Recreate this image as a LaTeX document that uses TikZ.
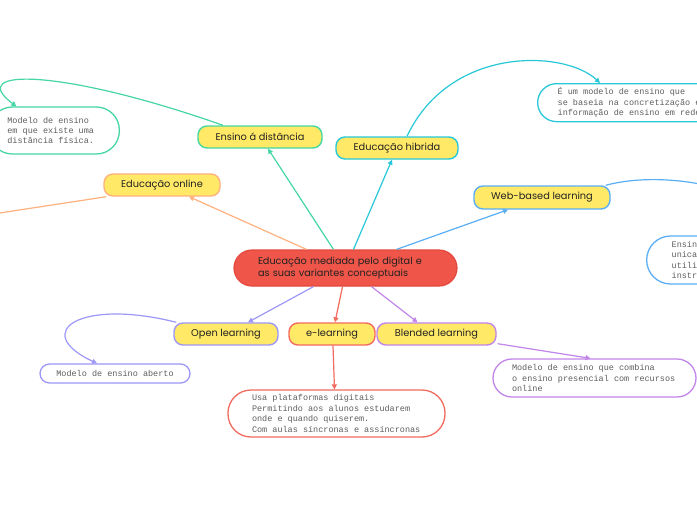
\documentclass[tikz,border=0pt]{standalone}
\usepackage{fontspec}
\setmainfont{Poppins}
\newfontfamily\leafmono{Liberation Mono}[WordSpace={1,0,0}]
\newcommand\myleaffont{\leafmono\fontsize{8.5}{10.4}\selectfont}
\newcommand\monosp{\spaceskip 0.6em\xspaceskip 0.6em\hyphenpenalty 10000\exhyphenpenalty 10000\hfuzz 6pt\hbadness 10000\relax}
\usetikzlibrary{arrows.meta,calc}
\definecolor{ylw}{HTML}{FFE966}
\definecolor{txt}{HTML}{222222}
\definecolor{leaftxt}{HTML}{5E5E5E}
\definecolor{cred}{HTML}{EF5548}
\definecolor{credb}{HTML}{E2483F}
\definecolor{cgreen}{HTML}{45D6A3}
\definecolor{ccyan}{HTML}{28C8D8}
\definecolor{corange}{HTML}{FFB27F}
\definecolor{cblue}{HTML}{5AAEF5}
\definecolor{cviolet}{HTML}{9D97F7}
\definecolor{celred}{HTML}{F26B5E}
\definecolor{cpurple}{HTML}{C285E8}
\begin{document}
\begin{tikzpicture}[x=1pt,y=-1pt,
  mainbox/.style={draw=#1, line width=1.4pt, fill=ylw, rounded corners=9pt,
    minimum height=22pt, inner sep=0pt, text=txt,
    font=\fontsize{9.8}{11}\selectfont},
  leafbox/.style={draw=#1, line width=1.3pt, fill=white, text=leaftxt,
    inner ysep=0pt, font=\myleaffont, align=left},
  conn/.style={draw=#1, line width=1.2pt, -{Triangle[length=5pt,width=5pt]}},
  plain/.style={draw=#1, line width=1.2pt}
]
\useasboundingbox (0,0) rectangle (697,520);
\clip (0,0) rectangle (697,520);
\fill[white] (0,0) rectangle (697,520);

% central node
\node[draw=credb, line width=1.2pt, fill=cred, rounded corners=18pt,
  minimum height=36pt, inner xsep=24pt, inner ysep=0pt, text width=175pt,
  align=left, text=txt, font=\fontsize{9.7}{11.5}\selectfont]
  (c) at (345.5,268) {Educação mediada pelo digital e\\as suas variantes conceptuais};

% main nodes
\node[mainbox=cgreen, minimum width=124pt] (ens) at (260,137) {Ensino á distância};
\node[mainbox=ccyan, minimum width=122pt] (hib) at (397,148) {Educação hibrida};
\node[mainbox=corange, minimum width=116pt] (onl) at (162,185) {Educação online};
\node[mainbox=cblue, minimum width=136pt, minimum height=23pt] (web) at (542,197.5) {Web-based learning};
\node[mainbox=cviolet, minimum width=104pt] (opn) at (226,334) {Open learning};
\node[mainbox=celred, minimum width=86pt] (eln) at (332,334) {e-learning};
\node[mainbox=cpurple, minimum width=119pt] (bln) at (436.5,334) {Blended learning};

% leaf nodes
\node[leafbox=cgreen, rounded corners=23pt, minimum height=47pt, inner xsep=18pt,
  text width=94pt, anchor=east] (lens) at (120,130.5)
  {\monosp Modelo de ensino\\em que existe uma\\distância física.};
\node[leafbox=ccyan, rounded corners=19pt, minimum height=38pt, inner xsep=20pt,
  text width=180pt, anchor=north west] (lhib) at (537,83)
  {\monosp É um modelo de ensino que\\se baseia na concretização e\\informação de ensino em rede};
\node[leafbox=cblue, rounded corners=24pt, minimum height=48pt, inner xsep=25pt,
  text width=60pt, anchor=west] (lweb) at (646,260)
  {\monosp Ensin\\unica\\utili\\instr};
\node[leafbox=cviolet, rounded corners=9.5pt, minimum height=19pt, minimum width=150pt,
  align=center, inner xsep=4pt] (lopn) at (115,373.5) {\monosp Modelo de ensino aberto};
\node[leafbox=celred, rounded corners=23pt, minimum height=47pt, inner xsep=24pt,
  text width=169pt] (leln) at (336.5,413.5)
  {\monosp Usa plataformas digitais\\Permitindo aos alunos estudarem\\onde e quando quiserem.\\Com aulas síncronas e assíncronas};
\node[leafbox=cpurple, rounded corners=19pt, minimum height=38pt, inner xsep=19pt,
  text width=165pt] (lbln) at (594.5,378)
  {\monosp Modelo de ensino que combina\\o ensino presencial com recursos\\online};

\coordinate (webend) at (730,192);
\coordinate (onlend) at (-20,216);

% connectors central -> main
\draw[conn=cgreen] ([xshift=-12pt]c.north) -- ([xshift=8pt]ens.south);
\draw[conn=ccyan] ([xshift=8pt]c.north) -- ([xshift=-5pt]hib.south);
\draw[conn=corange] ([xshift=-39pt]c.north) -- ([xshift=27pt]onl.south);
\draw[conn=cblue] ([xshift=51pt]c.north) -- ([xshift=-34pt]web.south);
\draw[conn=cviolet] ([xshift=-32pt]c.south) -- ([xshift=22pt]opn.north);
\draw[conn=celred] ([xshift=-3pt]c.south) -- ([xshift=3pt]eln.north);
\draw[conn=cpurple] ([xshift=26pt]c.south) -- ([xshift=-19pt]bln.north);

% connectors main -> leaf
\draw[conn=cgreen] ([xshift=-37pt]ens.north) .. controls (60,68) and (-35,68) .. ([xshift=-38pt]lens.north);
\draw[conn=ccyan] ([xshift=10pt]hib.north) .. controls (450,45) and (565,50) .. ([xshift=63pt]lhib.north west);
\draw[plain=cblue] ([xshift=-5pt]web.north east) .. controls (640,176) and (690,178) .. (webend);
\draw[plain=corange] ([xshift=3pt]onl.south west) -- (onlend);
\draw[conn=cviolet] ([xshift=3pt]opn.north west) .. controls (80,298) and (30,332) .. ([xshift=-18pt]lopn.north);
\draw[conn=celred] ([xshift=1pt]eln.south) -- ([xshift=-2pt]leln.north);
\draw[conn=cpurple] ([xshift=1pt,yshift=2pt]bln.south east) -- ([xshift=-4pt]lbln.north);
\end{tikzpicture}
\end{document}
